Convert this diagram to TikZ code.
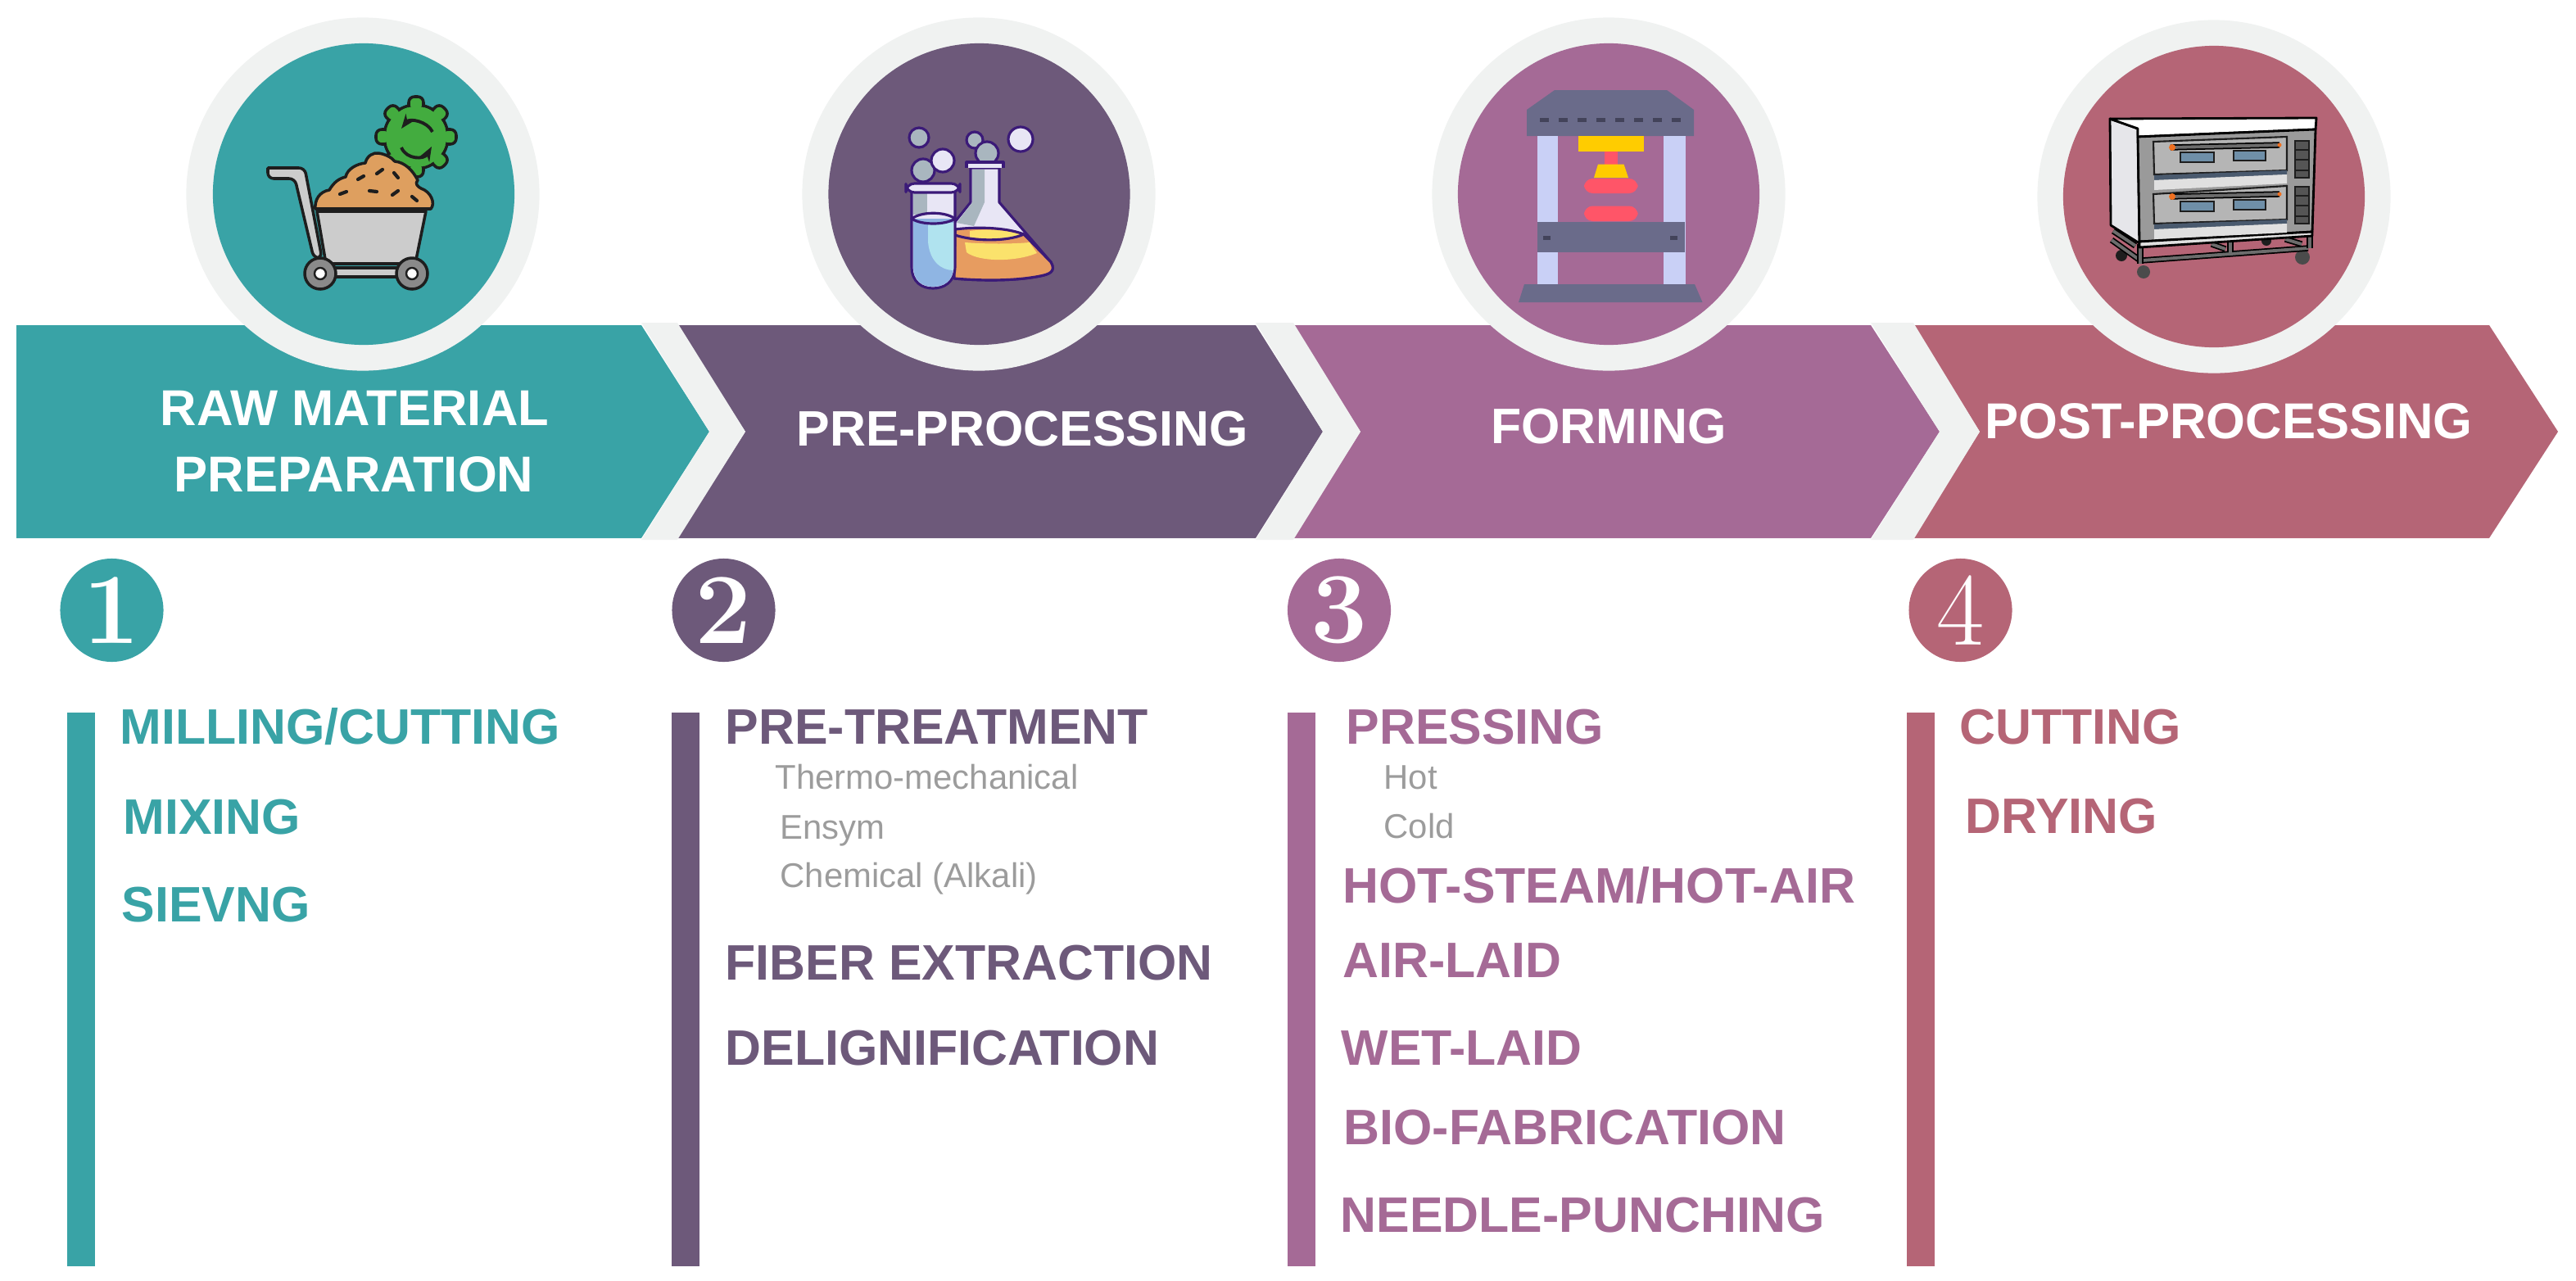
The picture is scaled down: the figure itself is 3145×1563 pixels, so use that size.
\documentclass[tikz,border=0pt]{standalone}
\usepackage{fontspec}
\usepackage{tikz}
\usepackage{xcolor}
\usetikzlibrary{arrows.meta, positioning, calc}

\newfontfamily\sansbody{Liberation Sans}

\definecolor{tealc}{HTML}{39A3A6}
\definecolor{plumc}{HTML}{6D597A}
\definecolor{mauvec}{HTML}{A56A96}
\definecolor{rosec}{HTML}{B56576}
\definecolor{gapc}{HTML}{F0F2F1}
\definecolor{subc}{HTML}{9C9C9C}
\definecolor{inkc}{HTML}{1E1E1E}
\definecolor{gearc}{HTML}{43AC3F}
\definecolor{dirtc}{HTML}{DE9F5F}
\definecolor{cartgrey}{HTML}{CCCCCC}
\definecolor{cartdark}{HTML}{8A8A8A}
\definecolor{flaskline}{HTML}{3B1A78}
\definecolor{flaskshade}{HTML}{A9B6BF}
\definecolor{flaskpale}{HTML}{E8E6F5}
\definecolor{flaskorange}{HTML}{E79C60}
\definecolor{flaskyellow}{HTML}{FBE26C}
\definecolor{flaskblue}{HTML}{8FB5E3}
\definecolor{flaskcyan}{HTML}{B0E3EF}
\definecolor{pressgrey}{HTML}{6A6B8A}
\definecolor{pressdark}{HTML}{43435A}
\definecolor{presscol}{HTML}{C9D0F6}
\definecolor{pressred}{HTML}{FF5568}
\definecolor{pressyel}{HTML}{FFCC00}
\definecolor{ovengrey}{HTML}{9A9A9A}
\definecolor{ovenpale}{HTML}{E0E0E0}
\definecolor{ovendoor}{HTML}{B5B5B5}
\definecolor{ovenstrip}{HTML}{4A5A6E}
\definecolor{ovenwin}{HTML}{6F8FA8}
\definecolor{ovenside}{HTML}{E6E6EA}
\definecolor{ovenlamp}{HTML}{F07020}
\definecolor{ovenpanel}{HTML}{555555}

\begin{document}
\begin{tikzpicture}[
    x=0.01cm, y=-0.01cm,
    ring/.style={circle, fill=gapc, minimum size=4.31cm, inner sep=0pt},
    disc/.style={circle, minimum size=3.68cm, inner sep=0pt},
    numdisc/.style={circle, minimum size=1.26cm, inner sep=0pt, text=white, font=\bfseries\fontsize{35}{35}\selectfont},
    headtext/.style={text=white, anchor=base, inner sep=0pt, font=\sansbody\bfseries\fontsize{17.5}{20}\selectfont},
    headsmall/.style={headtext, font=\sansbody\bfseries\fontsize{17.3}{20}\selectfont},
    itemtext/.style={anchor=base west, inner sep=0pt, font=\sansbody\bfseries\fontsize{17.3}{20}\selectfont},
    subtext/.style={anchor=base west, inner sep=0pt, text=subc, font=\sansbody\fontsize{11.9}{14}\selectfont},
    gapband/.style={fill=gapc},
    cartline/.style={draw=inkc, line width=1pt, line join=round},
    flaskstroke/.style={draw=flaskline, line width=0.9pt, line join=round},
    ovenstroke/.style={draw=black, line width=0.8pt, line join=round},
    ovenbar/.style={draw=black, line width=0.5pt, double=ovengrey!70!black, double distance=1.1pt}
]
    \useasboundingbox (0,0) rectangle (3145,1563);

    % Arrow bands
    \fill[tealc] (20,397) -- (783,397) -- (866,527) -- (783,657) -- (20,657) -- cycle;
    \fill[plumc] (827,397) -- (1533,397) -- (1615,527) -- (1533,657) -- (827,657) -- (910,527) -- cycle;
    \fill[mauvec] (1579,397) -- (2284,397) -- (2368,527) -- (2284,657) -- (1579,657) -- (1661,527) -- cycle;
    \fill[rosec] (2336,397) -- (3039,397) -- (3123,527) -- (3039,657) -- (2336,657) -- (2417,527) -- cycle;

    % Gaps between the arrows
    \fill[gapband] (783,394) -- (827,394) -- (910,527) -- (827,659) -- (783,659) -- (866,527) -- cycle;
    \fill[gapband] (1533,394) -- (1579,394) -- (1661,527) -- (1579,659) -- (1533,659) -- (1615,527) -- cycle;
    \fill[gapband] (2284,394) -- (2336,394) -- (2417,527) -- (2336,659) -- (2284,659) -- (2368,527) -- cycle;

    % Circles
    \node (ringA) [ring] at (443,237) {};
    \node (ringB) [ring] at (1195,237) {};
    \node (ringC) [ring] at (1964,237) {};
    \node (ringD) [ring] at (2703,240) {};
    \node (discA) [disc, fill=tealc] at (444,237) {};
    \node (discB) [disc, fill=plumc] at (1195.5,237) {};
    \node (discC) [disc, fill=mauvec] at (1964,237) {};
    \node (discD) [disc, fill=rosec] at (2703,240) {};

    % Cart icon
    \draw[cartline, fill=gearc] (508,167) circle (39);
    \foreach \a in {0,45,...,315} {
        \draw[cartline, fill=gearc, rounded corners=2pt, rotate around={\a:(508,167)}] (499,118) rectangle (517,135);
    }
    \fill[gearc] (508,167) circle (37);
    \draw[cartline, line width=1.1pt, -{Stealth[length=5pt]}] (528,161) .. controls (522,148) and (500,144) .. (490,157);
    \draw[cartline, line width=1.1pt, -{Stealth[length=5pt]}] (490,180) .. controls (496,195) and (518,195) .. (527,179);
    \draw[cartline, fill=dirtc] (385,255) .. controls (384,244) and (390,234) .. (402,232) .. controls (408,222) and (414,218) .. (422,216)
        .. controls (424,206) and (436,200) .. (446,199) .. controls (448,190) and (456,186) .. (462,187) .. controls (470,188) and (478,192) .. (482,197)
        .. controls (494,198) and (504,208) .. (510,220) .. controls (506,224) and (510,228) .. (514,230) .. controls (526,234) and (532,248) .. (526,255) -- cycle;
    \foreach \sx/\sy/\dx/\dy in {415/237/8/-3, 437/219/7/-4, 460/212/7/-5, 481/211/5/6, 451/233/9/1, 479/238/7/-5, 503/240/6/5} {
        \draw[inkc, line width=1.2pt, line cap=round] (\sx,\sy) -- ++(\dx,\dy);
    }
    \draw[cartline, fill=cartgrey, rounded corners=2pt] (327,205) -- (372,205) -- (393,315) -- (383,315) -- (360,218) -- (327,218) [sharp corners] -- cycle;
    \draw[cartline, fill=cartgrey] (387,258) -- (520,258) -- (507,322) -- (398,322) -- cycle;
    \draw[cartline, fill=cartgrey] (405,327) rectangle (490,338);
    \foreach \wx in {391,503} {
        \draw[cartline, fill=cartdark] (\wx,334) circle (19);
        \draw[cartline, fill=white, line width=0.7pt] (\wx,334) circle (7);
    }

    % Flask icon
    \foreach \bx/\by/\br/\bc in {1122/168/12/flaskshade, 1190/171/10/flaskshade, 1205/187/14/flaskshade, 1127/208/14/flaskshade, 1151/196/14/flaskpale, 1246/170/15/flaskpale} {
        \draw[flaskstroke, fill=\bc] (\bx,\by) circle (\br);
    }
    \draw[flaskstroke, fill=flaskpale] (1185,205) -- (1220,205) -- (1220,247) -- (1283,320) .. controls (1290,332) and (1280,335) .. (1270,337)
        .. controls (1240,343) and (1200,343) .. (1165,340) -- (1165,272) -- (1185,247) -- cycle;
    \fill[flaskshade] (1187,207) -- (1202,207) -- (1202,247) -- (1189,276) -- (1168,272) -- (1187,247) -- cycle;
    \draw[flaskstroke, fill=flaskpale] (1180,205) -- (1180,198) -- (1225,198) -- (1225,205);
    \draw[flaskstroke, fill=flaskorange] (1166,280) .. controls (1190,277) and (1226,277) .. (1250,286)
        -- (1283,320) .. controls (1290,332) and (1280,335) .. (1270,337) .. controls (1240,343) and (1200,343) .. (1165,340) -- cycle;
    \fill[flaskyellow] (1184,282) .. controls (1205,279) and (1230,281) .. (1247,287) .. controls (1230,292) and (1205,292) .. (1184,290) -- cycle;
    \fill[flaskyellow] (1178,296) .. controls (1205,298) and (1235,298) .. (1257,296) -- (1266,309)
        .. controls (1240,320) and (1195,320) .. (1180,308) -- cycle;
    \draw[flaskstroke] (1166,287) .. controls (1190,295) and (1230,295) .. (1250,286);
    \draw[flaskstroke, fill=flaskpale] (1113,232) -- (1166,232) -- (1166,325) .. controls (1166,345) and (1152,352) .. (1139,352)
        .. controls (1126,352) and (1113,345) .. (1113,325) -- cycle;
    \fill[flaskshade] (1115,234) rectangle (1132,262);
    \fill[flaskblue] (1115,267) -- (1164,267) -- (1164,325) .. controls (1164,344) and (1152,350) .. (1139,350)
        .. controls (1127,350) and (1115,344) .. (1115,325) -- cycle;
    \fill[flaskcyan] (1133,272) -- (1164,272) -- (1164,330) .. controls (1150,330) and (1135,320) .. (1133,295) -- cycle;
    \draw[flaskstroke] (1113,267) .. controls (1125,258) and (1154,258) .. (1166,267) .. controls (1154,275) and (1125,275) .. (1113,267) -- cycle;
    \draw[flaskstroke, fill=flaskpale, rounded corners=3pt] (1106,224) -- (1172,224) -- (1172,235) -- (1106,235) -- cycle;

    % Press icon
    \fill[pressgrey] (1864,134) -- (1898,110) -- (2035,110) -- (2068,134) -- (2068,166) -- (1864,166) -- cycle;
    \foreach \i in {0,...,7} {
        \fill[pressdark] ({1880+23*\i},143.5) rectangle ++(11,5);
    }
    \fill[presscol] (1876.5,166) rectangle (1902,347);
    \fill[presscol] (2031,166) rectangle (2058,347);
    \fill[pressyel] (1926.5,166) rectangle (2007,185);
    \fill[pressred] (1959,185) rectangle (1975,201);
    \fill[pressyel] (1951,200.5) -- (1982.5,200.5) -- (1988,217) -- (1946,217) -- cycle;
    \fill[pressred, rounded corners=3pt] (1934,218) rectangle (1999.5,236);
    \fill[pressred, rounded corners=3pt] (1934,251.5) rectangle (1999.5,270);
    \fill[pressgrey] (1876.5,271) rectangle (2056.5,308);
    \fill[pressdark] (1884,288) rectangle ++(9,5);
    \fill[pressdark] (2039,288) rectangle ++(9,5);
    \fill[pressgrey] (1861,347) -- (2069,347) -- (2078.5,369) -- (1854,369) -- cycle;

    % Oven icon
    \fill[inkc] (2590,312) circle (7);
    \fill[inkc] (2767,294) circle (6);
    \fill[inkc!80] (2617,332) circle (8);
    \fill[inkc!80] (2811,314) circle (9);
    \draw[ovenbar] (2580,282) -- (2607,300);
    \draw[ovenbar] (2578,293) -- (2613,318);
    \draw[ovenbar] (2615,318) -- (2818,303);
    \draw[ovenbar] (2613,298) -- (2613,322);
    \draw[ovenbar] (2820,288) -- (2820,303);
    \draw[ovenbar] (2723,295) -- (2723,308);
    \draw[ovenbar] (2700,298) -- (2717,304);
    \draw[ovenbar] (2790,292) -- (2810,298);
    \draw[ovenstroke, fill=ovenside] (2576,145) -- (2610,157) -- (2612,297) -- (2577,275) -- cycle;
    \draw[ovenstroke, fill=white] (2576,145) -- (2828,144) -- (2827,158) -- (2610,167) -- (2610,157) -- cycle;
    \draw[ovenstroke, fill=ovengrey] (2610,167) -- (2827,158) -- (2823,283) -- (2612,295) -- cycle;
    \draw[ovenstroke, fill=ovenpale] (2612,295) -- (2823,283) -- (2823,288) -- (2612,302) -- cycle;
    \foreach \dy/\doff in {0/0, 60/4} {
        \draw[inkc, line width=0.6pt, fill=ovendoor] (2629,{173+\dy+\doff}) -- (2792,{167+\dy}) -- (2792,{208+\dy}) -- (2630,{213+\dy}) -- cycle;
        \fill[ovenstrip] (2630,{214+\dy}) -- (2792,{208+\dy}) -- (2792,{213+\dy}) -- (2630,{220+\dy}) -- cycle;
        \fill[ovenpale] (2630,{220+\dy}) -- (2792,{213+\dy}) -- (2792,{224+\dy}) -- (2630,{232+\dy}) -- cycle;
        \draw[ovenbar] (2650,{180+\dy}) -- (2783,{177+\dy});
        \fill[ovenlamp] (2652,{180+\dy}) circle (4);
        \fill[ovenlamp] (2783,{177+\dy}) circle (2.5);
        \draw[inkc, fill=ovenwin, line width=0.6pt] (2662,{186+\dy}) rectangle (2703,{198+\dy});
        \draw[inkc, fill=ovenwin, line width=0.6pt] (2727,{184+\dy}) rectangle (2766,{196+\dy});
    }
    \foreach \py in {172,228} {
        \draw[inkc, line width=0.6pt, fill=ovenpanel] (2802,\py) rectangle ++(17,45);
        \draw[inkc, line width=0.6pt] (2802,{\py+11}) -- ++(17,0) (2802,{\py+23}) -- ++(17,0) (2802,{\py+36}) -- ++(17,0);
    }

    % Arrow titles
    \node (titleAa) [headtext] at (433,519) {RAW MATERIAL};
    \node (titleAb) [headtext] at (432,600) {PREPARATION};
    \node (titleB) [headsmall] at (1248,544) {PRE-PROCESSING};
    \node (titleC) [headsmall] at (1964,541) {FORMING};
    \node (titleD) [headtext] at (2721,535) {POST-PROCESSING};

    % Numbers
    \node (numA) [numdisc, fill=tealc] at (136.5,745) {1};
    \node (numB) [numdisc, fill=plumc] at (883.5,745) {2};
    \node (numC) [numdisc, fill=mauvec] at (1635,745) {3};
    \node (numD) [numdisc, fill=rosec, font=\fontsize{36}{36}\selectfont] at (2393.5,745) {4};

    % Side bars
    \fill[tealc] (81.5,870) rectangle (115.5,1546);
    \fill[plumc] (820,870) rectangle (854,1546);
    \fill[mauvec] (1572,870) rectangle (1606,1546);
    \fill[rosec] (2328,870) rectangle (2362,1546);

    % Column one
    \node (milling) [itemtext, text=tealc] at (146,908) {MILLING/CUTTING};
    \node (mixing) [itemtext, text=tealc] at (150,1018) {MIXING};
    \node (sievng) [itemtext, text=tealc] at (148,1125) {SIEVNG};

    % Column two
    \node (pretreat) [itemtext, text=plumc] at (885,908) {PRE-TREATMENT};
    \node (thermo) [subtext] at (946,963) {Thermo-mechanical};
    \node (ensym) [subtext] at (952,1024) {Ensym};
    \node (chemical) [subtext] at (952,1083) {Chemical (Alkali)};
    \node (fiber) [itemtext, text=plumc] at (885,1196) {FIBER EXTRACTION};
    \node (delign) [itemtext, text=plumc] at (885,1300) {DELIGNIFICATION};

    % Column three
    \node (pressing) [itemtext, text=mauvec] at (1643,908) {PRESSING};
    \node (hot) [subtext] at (1689,963) {Hot};
    \node (cold) [subtext] at (1689,1023) {Cold};
    \node (steam) [itemtext, text=mauvec] at (1639,1102) {HOT-STEAM/HOT-AIR};
    \node (airlaid) [itemtext, text=mauvec] at (1639,1193.5) {AIR-LAID};
    \node (wetlaid) [itemtext, text=mauvec] at (1637,1300.5) {WET-LAID};
    \node (biofab) [itemtext, text=mauvec] at (1640,1397) {BIO-FABRICATION};
    \node (needle) [itemtext, text=mauvec] at (1636,1504) {NEEDLE-PUNCHING};

    % Column four
    \node (cutting) [itemtext, text=rosec] at (2392,908) {CUTTING};
    \node (drying) [itemtext, text=rosec] at (2399,1017) {DRYING};
\end{tikzpicture}
\end{document}
